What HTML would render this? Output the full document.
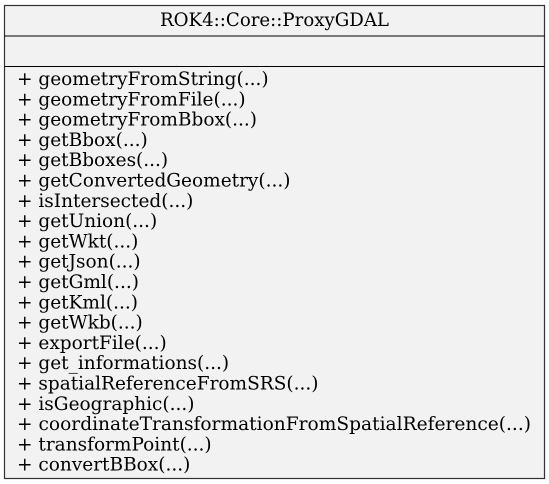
<!DOCTYPE html>
<html><head><meta charset="utf-8"><style>
html,body{margin:0;padding:0;background:#fff;}
svg{display:block}
text{font-family:"DejaVu Serif","Liberation Serif",serif;font-size:18.5px;fill:#000}
</style></head><body>
<svg width="549" height="484" viewBox="0 0 549 484">
<rect x="4.5" y="5.5" width="540" height="473" fill="#f2f2f2" stroke="#333" stroke-width="1.2"/>
<line x1="4.5" y1="36" x2="544.5" y2="36" stroke="#000"/>
<line x1="4.5" y1="66.5" x2="544.5" y2="66.5" stroke="#000"/>
<text x="274.5" y="26" text-anchor="middle" textLength="229" lengthAdjust="spacingAndGlyphs">ROK4::Core::ProxyGDAL</text>
<g>
<text x="17" y="85">+ geometryFromString(...)</text>
<text x="17" y="105.3">+ geometryFromFile(...)</text>
<text x="17" y="125.6">+ geometryFromBbox(...)</text>
<text x="17" y="145.9">+ getBbox(...)</text>
<text x="17" y="166.2">+ getBboxes(...)</text>
<text x="17" y="186.5">+ getConvertedGeometry(...)</text>
<text x="17" y="206.8">+ isIntersected(...)</text>
<text x="17" y="227.1">+ getUnion(...)</text>
<text x="17" y="247.4">+ getWkt(...)</text>
<text x="17" y="267.7">+ getJson(...)</text>
<text x="17" y="288">+ getGml(...)</text>
<text x="17" y="308.3">+ getKml(...)</text>
<text x="17" y="328.6">+ getWkb(...)</text>
<text x="17" y="348.9">+ exportFile(...)</text>
<text x="17" y="369.2">+ get_informations(...)</text>
<text x="17" y="389.5">+ spatialReferenceFromSRS(...)</text>
<text x="17" y="409.8">+ isGeographic(...)</text>
<text x="17" y="430.1" textLength="514" lengthAdjust="spacingAndGlyphs">+ coordinateTransformationFromSpatialReference(...)</text>
<text x="17" y="450.4">+ transformPoint(...)</text>
<text x="17" y="470.7">+ convertBBox(...)</text>
</g>
</svg>
</body></html>
